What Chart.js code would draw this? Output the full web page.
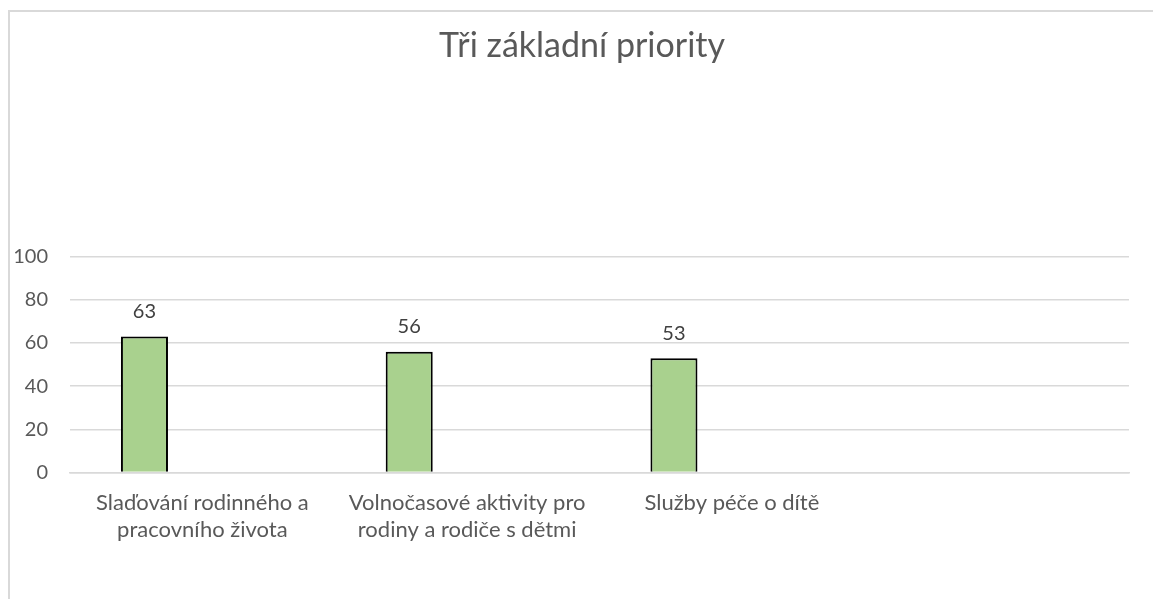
<!DOCTYPE html>
<html>
<head>
<meta charset="utf-8">
<script src="https://cdn.jsdelivr.net/npm/chart.js@4"></script>
<style>
  html, body { margin: 0; padding: 0; background: #fff; overflow: hidden; }
  #frame {
    position: absolute; left: 8px; top: 10px;
    border-left: 2px solid #d9d9d9; border-top: 2px solid #d9d9d9;
    width: 1160px; height: 600px;
  }
</style>
</head>
<body>
<div id="frame"><canvas id="chartBar" width="1160" height="600"></canvas></div>
<script>
const titleText = 'Tři základní priority';
const categories = [
    ['Slaďování rodinného a', 'pracovního života'],
    ['Volnočasové aktivity pro', 'rodiny a rodiče s dětmi'],
    ['Služby péče o dítě'],
    ''
];
const priorityValues = [63, 56, 53, null];
const emptySeries = [null, null, null, null];
const yTicks = [0, 20, 40, 60, 80, 100];

const fontFamily = 'Lato, "Open Sans", sans-serif';

// numbers above the bars
const valueLabels = {
    id: 'valueLabels',
    afterDatasetsDraw(chart) {
        const c = chart.ctx;
        const meta = chart.getDatasetMeta(0);
        c.save();
        c.font = '20px ' + fontFamily;
        c.fillStyle = '#404040';
        c.textAlign = 'center';
        c.textBaseline = 'middle';
        meta.data.forEach((bar, i) => {
            const v = priorityValues[i];
            if (v === null) return;
            c.fillText(String(v), bar.x, bar.y - 25);
        });
        c.restore();
    }
};

// chart title, centred on the whole chart box (the built-in one ignores the right padding)
const chartTitle = {
    id: 'chartTitle',
    afterDraw(chart) {
        const c = chart.ctx;
        c.save();
        c.font = '34px ' + fontFamily;
        c.fillStyle = '#595959';
        c.textAlign = 'center';
        c.textBaseline = 'alphabetic';
        c.fillText(titleText, 572, 45);
        c.restore();
    }
};

var ctx = document.getElementById('chartBar').getContext('2d');
var chart = new Chart(ctx, {
    type: 'bar',
    data: {
        labels: categories,
        datasets: [{
            label: 'Priorita',
            data: priorityValues,
            backgroundColor: '#a9d18e',
            borderColor: '#000000',
            borderWidth: 2,
            borderSkipped: 'bottom',
            categoryPercentage: 0.875,
            barPercentage: 0.406
        },
        {
            label: '',
            data: emptySeries,
            backgroundColor: 'rgba(0,0,0,0)',
            categoryPercentage: 0.875,
            barPercentage: 0.406
        }]
    },
    options: {
        responsive: false,
        animation: false,
        devicePixelRatio: 1,
        layout: { padding: { left: 0, right: 41, top: 244.7, bottom: 0 } },
        plugins: {
            legend: { display: false },
            tooltip: { enabled: false },
            title: { display: false }
        },
        scales: {
            x: {
                grid: { display: false },
                border: { display: true, color: '#d9d9d9', width: 1.5 },
                ticks: {
                    color: '#595959',
                    font: { family: fontFamily, size: 22, lineHeight: 1.23 },
                    padding: 9,
                    maxRotation: 0,
                    autoSkip: false
                },
                afterFit: (scale) => { scale.height = 139.5; }
            },
            y: {
                min: 0,
                max: 100,
                afterBuildTicks: (scale) => { scale.ticks = yTicks.map(v => ({ value: v })); },
                grid: { color: '#d9d9d9', lineWidth: 1.5, drawTicks: false },
                border: { display: false },
                ticks: {
                    color: '#595959',
                    font: { family: fontFamily, size: 20 },
                    padding: 22
                },
                afterFit: (scale) => { scale.width = 60; }
            }
        }
    },
    plugins: [valueLabels, chartTitle]
});
</script>
</body>
</html>
